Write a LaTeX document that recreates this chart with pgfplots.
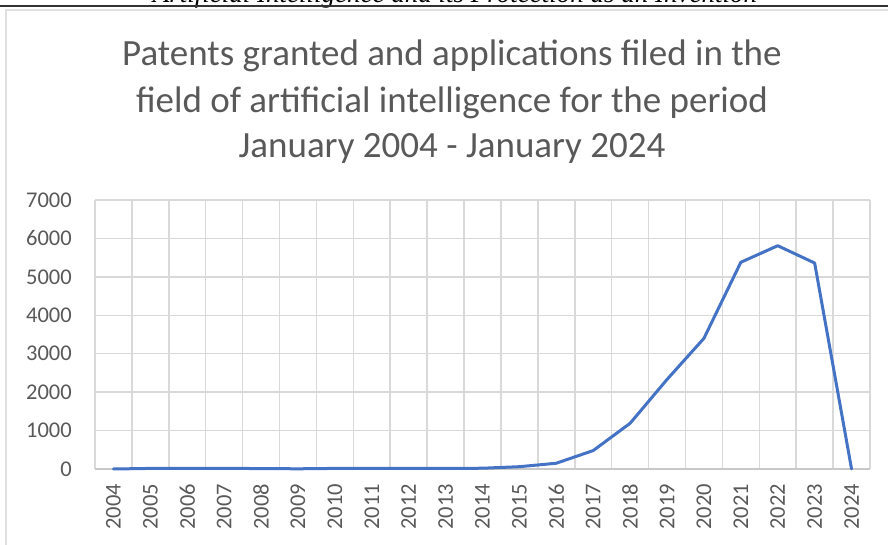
\documentclass[border=0pt]{standalone}
\usepackage{pgfplots}
\pgfplotsset{compat=1.18}
\usepackage{fontspec}
\setmainfont{Carlito}
\newfontfamily\headserif{Liberation Serif}
\definecolor{txtgray}{HTML}{595959}
\definecolor{gridgray}{HTML}{D9D9D9}
\definecolor{axgray}{HTML}{C8C8C8}
\definecolor{bordergray}{HTML}{E0E0E0}
\definecolor{xlblue}{HTML}{4472C4}
\begin{document}
\begin{tikzpicture}
% header remnant and rule
\node[anchor=base, font=\headserif\itshape\fontsize{27}{30}\selectfont, text=black, inner sep=0pt] at (455pt,542.5pt) {Artificial Intelligence and its Protection as an Invention};
\draw[line width=1.3pt, color=black!80] (0pt,539pt) -- (888pt,539pt);
% chart border
\draw[line width=2pt, color=bordergray] (6pt,-20pt) -- (6pt,535pt) -- (900pt,535pt);
% title
\node[anchor=base, text=txtgray, font=\fontsize{37}{44}\selectfont, inner sep=0pt] at (452pt,479pt) {Patents granted and applications filed in the};
\node[anchor=base, text=txtgray, font=\fontsize{37}{44}\selectfont, inner sep=0pt] at (452pt,432.5pt) {field of artificial intelligence for the period};
\node[anchor=base, text=txtgray, font=\fontsize{37}{44}\selectfont, inner sep=0pt] at (452pt,387pt) {January 2004 - January 2024};
\begin{axis}[
  at={(95pt,76pt)}, anchor=south west,
  scale only axis, width=775pt, height=269pt,
  xmin=-0.5, xmax=20.5, ymin=0, ymax=7000,
  xtick={0,...,20},
  xticklabels={2004,2005,2006,2007,2008,2009,2010,2011,2012,2013,2014,2015,2016,2017,2018,2019,2020,2021,2022,2023,2024},
  minor xtick={-0.5,0.5,...,20.5},
  ytick={0,1000,...,7000},
  xminorgrids=true, ymajorgrids=true, xmajorgrids=false,
  grid style={color=gridgray, line width=1.5pt},
  minor grid style={color=gridgray, line width=1.5pt},
  major tick length=0pt, minor tick length=0pt,
  axis x line*=bottom, axis y line*=left,
  x axis line style={color=axgray, line width=1.5pt, -},
  y axis line style={draw=none},
  clip=false,
  /pgf/number format/1000 sep={},
  /pgf/number format/assume math mode=true,
  tick label style={font=\fontsize{22.5}{26}\selectfont, text=txtgray},
  yticklabel style={anchor=east, inner sep=0pt, xshift=-23pt},
  xticklabel style={yshift=-15pt, rotate=90, anchor=east, inner sep=0pt},
]
\addplot[color=xlblue, line width=3pt, line join=round, line cap=round] coordinates {
(0,0) (1,15) (2,15) (3,15) (4,12) (5,5) (6,15) (7,15) (8,15) (9,15) (10,20)
(11,60) (12,150) (13,480) (14,1190) (15,2330) (16,3400) (17,5380) (18,5810) (19,5360) (20,0)
};
\end{axis}
\pgfresetboundingbox
\path[use as bounding box] (0pt,0pt) rectangle (888pt,545pt);
\end{tikzpicture}
\end{document}
